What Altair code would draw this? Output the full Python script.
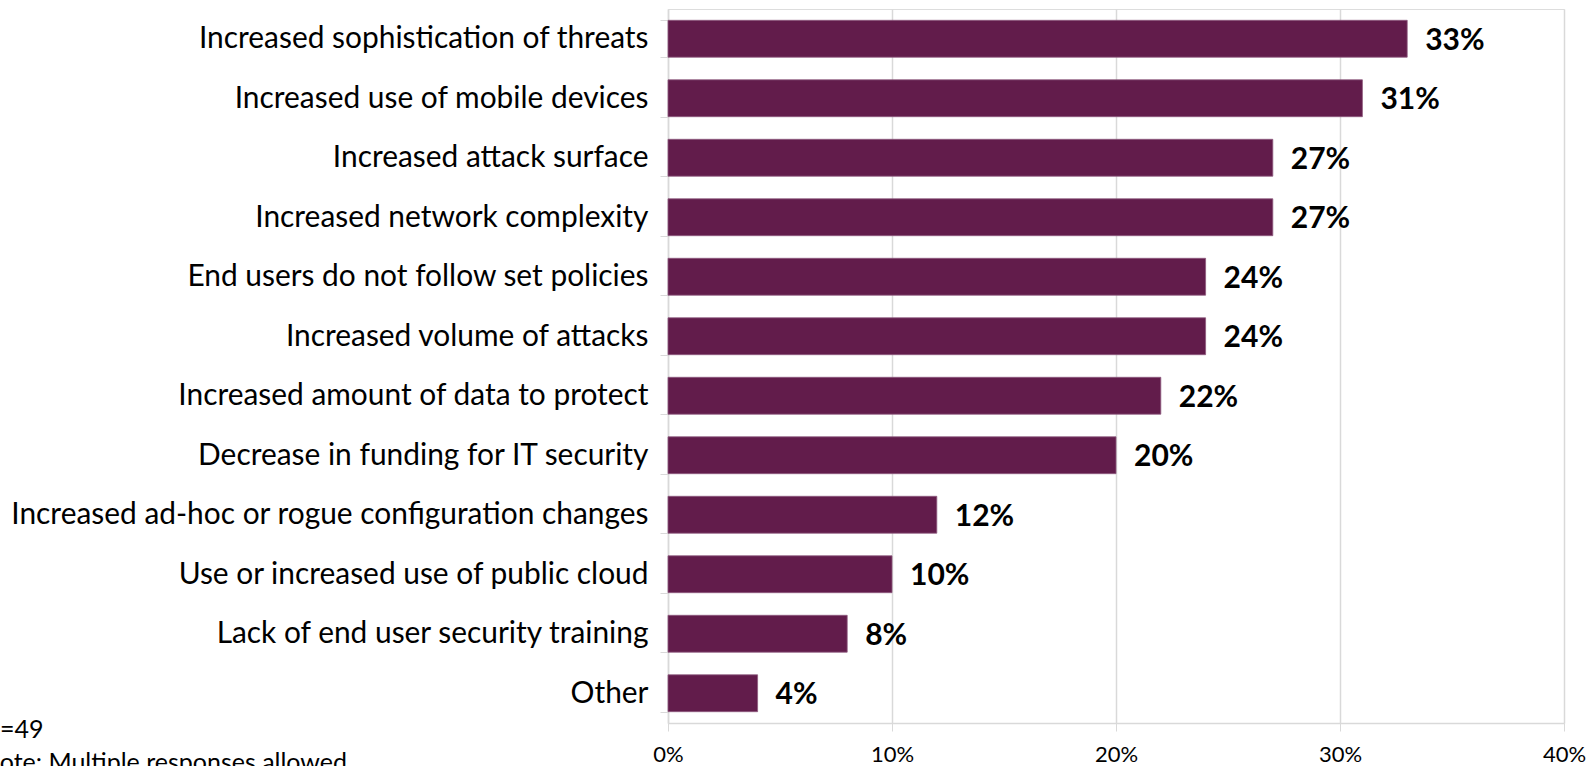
import altair as alt
import pandas as pd

categories = [
    "Increased sophistication of threats",
    "Increased use of mobile devices",
    "Increased attack surface ",
    "Increased network complexity",
    "End users do not follow set policies",
    "Increased volume of attacks",
    "Increased amount of data to protect",
    "Decrease in funding for IT security",
    "Increased ad-hoc or rogue configuration changes",
    "Use or increased use of public cloud",
    "Lack of end user security training",
    "Other",
]
values = [0.33, 0.31, 0.27, 0.27, 0.24, 0.24, 0.22, 0.20, 0.12, 0.10, 0.08, 0.04]
notes = ["N=49", "Note: Multiple responses allowed"]

df = pd.DataFrame({"category": categories, "value": values})

FONT = "Lato"
COLOR = "#621C4B"
GRID = "#D9D9D9"

y_enc = alt.Y(
    "category:N",
    sort=categories,
    scale=alt.Scale(paddingInner=0.38, paddingOuter=0.19),
    axis=alt.Axis(
        title=None,
        labelFont=FONT,
        labelFontSize=29.9,
        labelColor="#000000",
        labelLimit=800,
        labelPadding=12,
        tickBand="extent",
        tickSize=8,
        tickColor=GRID,
        domainColor=GRID,
        domainWidth=1.5,
        grid=False,
    ),
)

x_enc = alt.X(
    "value:Q",
    scale=alt.Scale(domain=[0, 0.4]),
    axis=alt.Axis(
        title=None,
        format=".0%",
        values=[0, 0.1, 0.2, 0.3, 0.4],
        labelFont=FONT,
        labelFontSize=22,
        labelColor="#000000",
        labelPadding=13,
        tickSize=8,
        tickColor=GRID,
        domainColor=GRID,
        domainWidth=1.5,
        gridColor=GRID,
        gridWidth=1.5,
        labelFlush=False,
    ),
)

bars = alt.Chart(df).mark_bar(color=COLOR, stroke="#8E5B7E", strokeWidth=0.8).encode(
    x=x_enc, y=y_enc
)

labels = alt.Chart(df).mark_text(
    align="left", baseline="middle", dx=18, dy=2, font=FONT, fontSize=30,
    fontWeight="bold", color="#000000"
).encode(
    x="value:Q",
    y=alt.Y("category:N", sort=categories),
    text=alt.Text("value:Q", format=".0%"),
)

note1 = alt.Chart(pd.DataFrame({"t": [notes[0]]})).mark_text(
    align="left", baseline="alphabetic", font=FONT, fontSize=25, color="#000000"
).encode(text="t:N", x=alt.value(-687), y=alt.value(729))
note2 = alt.Chart(pd.DataFrame({"t": [notes[1]]})).mark_text(
    align="left", baseline="alphabetic", font=FONT, fontSize=25, color="#000000"
).encode(text="t:N", x=alt.value(-687), y=alt.value(762))

chart = alt.layer(bars, labels, note1, note2).properties(
    width=896,
    height=714,
    padding={"left": 668, "top": 9, "right": 29, "bottom": 43},
    autosize=alt.AutoSizeParams(type="none"),
).configure_view(stroke=None).configure(background="white")

chart.save("out.html", embed_options={"renderer": "svg", "actions": False})
